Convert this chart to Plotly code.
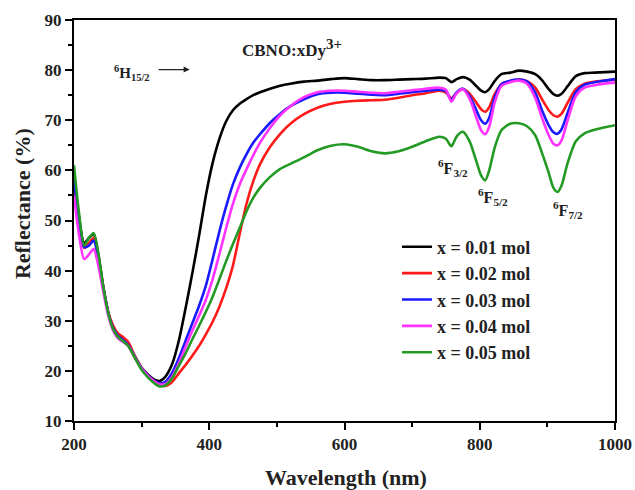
import plotly.graph_objects as go

wavelength = [200, 207, 215, 222, 229, 236, 243, 251, 258, 265, 272, 280, 290, 300, 310, 320, 327, 335,
              345, 355, 365, 375, 385, 395, 405, 415, 425, 435, 445, 455, 465, 475, 490, 505, 520, 540,
              560, 580, 600, 620, 640, 660, 680, 700, 720, 740, 750, 758, 766, 775, 785, 795, 802, 808,
              814, 822, 832, 845, 858, 870, 882, 892, 902, 909, 915, 921, 930, 942, 955, 970, 985, 1000]

r_001 = [59, 51, 45.5, 46.5, 47.3, 43, 37, 31.5, 28.5, 27.3, 26.3, 25.2, 22.8, 20.6, 19.2, 18.2, 18.0, 18.8,
         21.3, 26, 32.5, 39.5, 47, 55, 61.5, 66.3, 69.8, 72, 73.3, 74.2, 75, 75.6, 76.3, 76.9, 77.3, 77.7,
         77.9, 78.2, 78.4, 78.2, 78.0, 78.0, 78.1, 78.2, 78.3, 78.5, 78.4, 77.6, 78.2, 78.6, 78.1, 76.8, 75.9, 75.6,
         76.2, 77.8, 79.2, 79.5, 79.9, 79.7, 79.2, 78, 76.2, 75.2, 74.9, 75.3, 76.8, 78.8, 79.4, 79.5, 79.6, 79.7]

r_002 = [57, 50, 44.5, 45.5, 46.5, 43, 37, 31.5, 29, 27.5, 26.8, 25.8, 23, 20.6, 19.0, 17.8, 17.2, 17.0,
         17.8, 19.5, 21.2, 23, 25, 27.3, 29.8, 32.8, 36.5, 41, 47.3, 53.3, 57.8, 61.2, 64.7, 67.3, 69.3, 71.2,
         72.5, 73.3, 73.7, 73.9, 74, 74.1, 74.5, 75, 75.4, 75.9, 75.5, 74.4, 75.5, 76.2, 75.3, 73.5, 72.2, 71.7,
         72.6, 75.2, 77.2, 77.8, 78.1, 77.8, 76.5, 74.2, 72, 71, 70.7, 71.3, 73.5, 76.2, 77.3, 77.7, 77.9, 78.1]

r_003 = [58, 50.5, 44.7, 45, 46, 42.5, 36.8, 31.3, 28.5, 27, 26.2, 25.2, 22.8, 20.5, 19, 17.9, 17.5, 17.8,
         19.6, 22.5, 26, 29.5, 33, 37, 42.3, 47.8, 52.8, 57.2, 60.5, 63.2, 65.5, 67.2, 69.5, 71.3, 72.8, 74.2,
         75.2, 75.5, 75.5, 75.3, 75.1, 75.0, 75.3, 75.6, 75.9, 76.1, 75.8, 74.1, 75.6, 76.3, 74.8, 72, 70, 69.3,
         70.5, 74.5, 77.2, 77.9, 78.1, 77.7, 75.5, 72, 69, 67.6, 67.3, 68.2, 71.5, 75.6, 77.1, 77.6, 77.9, 78.2]

r_004 = [55, 47.5, 42.3, 43.2, 44.3, 41, 36, 30.8, 28, 26.5, 25.8, 25, 22.6, 20.4, 18.9, 17.8, 17.3, 17.4,
         18.8, 21.5, 24.8, 28, 31, 34.2, 38.3, 43.3, 48.5, 53.3, 57.2, 60.2, 63, 65.5, 68.5, 71, 72.8, 74.6,
         75.6, 75.9, 75.9, 75.7, 75.5, 75.4, 75.7, 76, 76.3, 76.5, 76.1, 73.7, 75.4, 76.2, 74.3, 70.5, 68, 67.2,
         68.7, 73.5, 76.8, 77.6, 77.9, 77.3, 74.5, 70.5, 67, 65.3, 65, 66, 70, 74.8, 76.5, 77, 77.3, 77.5]

r_005 = [61, 52, 45, 46.5, 47.5, 43.5, 37, 31.3, 28.3, 26.8, 26, 25, 22.6, 20.2, 18.6, 17.4, 16.9, 17.1,
         18.5, 21, 23.5, 26.3, 29, 31.8, 34.8, 38.3, 41.9, 45.3, 48.5, 51.8, 54.5, 56.5, 58.7, 60.3, 61.3, 62.6,
         64, 64.9, 65.2, 64.7, 63.8, 63.4, 63.8, 64.7, 65.8, 66.7, 66.3, 64.8, 66.8, 67.7, 65.8, 61.8, 59, 58,
         60, 64.5, 68, 69.3, 69.4, 68.8, 67, 63.5, 59.5, 56.5, 55.7, 57, 61.5, 65.8, 67.4, 68.1, 68.6, 69]

series_names = ["x = 0.01 mol", "x = 0.02 mol", "x = 0.03 mol", "x = 0.04 mol", "x = 0.05 mol"]
series_values = [r_001, r_002, r_003, r_004, r_005]
colors = ["#000000", "#ff1a1a", "#1a1aff", "#ff33ff", "#239a23"]

x_ticks = [200, 400, 600, 800, 1000]
y_ticks = [10, 20, 30, 40, 50, 60, 70, 80, 90]

FONT = "Liberation Serif, Times New Roman, serif"
TXT = "#222"

fig = go.Figure()
for name, vals, col in zip(series_names, series_values, colors):
    fig.add_trace(go.Scatter(x=wavelength, y=vals, mode="lines", name=name,
                             line=dict(color=col, width=2.6, shape="spline", smoothing=0.7)))

axis_common = dict(showline=True, linecolor="black", linewidth=2, mirror=True,
                   ticks="outside", ticklen=7, tickwidth=2, tickcolor="black",
                   showgrid=False, zeroline=False, automargin=False,
                   tickfont=dict(family=FONT, size=17, color=TXT, weight="bold"))

fig.update_xaxes(range=[200, 1000], tickvals=x_ticks, ticktext=[str(v) for v in x_ticks],
                 minor=dict(ticks="outside", ticklen=4, tickwidth=2, tickcolor="black", dtick=100, tick0=200),
                 **axis_common)
fig.update_yaxes(range=[10, 90], tickvals=y_ticks, ticktext=[str(v) for v in y_ticks],
                 minor=dict(ticks="outside", ticklen=4, tickwidth=2, tickcolor="black", dtick=5, tick0=10),
                 **axis_common)

# axis titles
fig.add_annotation(xref="paper", yref="paper", x=0.503, y=-0.14, text="Wavelength (nm)",
                   showarrow=False, xanchor="center", yanchor="middle",
                   font=dict(family=FONT, size=22, color=TXT, weight="bold"))
fig.add_annotation(xref="paper", yref="paper", x=-0.096, y=0.541, text="Reflectance (%)",
                   showarrow=False, xanchor="center", yanchor="middle", textangle=-90,
                   font=dict(family=FONT, size=22, color=TXT, weight="bold"))

ann_font = dict(family=FONT, size=16, color=TXT, weight="bold")
fig.add_annotation(x=445, y=84.4, text="CBNO:xDy<sup><span style='font-size:15px'>3+</span></sup>",
                   showarrow=False, xanchor="left",
                   font=dict(family=FONT, size=17, color=TXT, weight="bold"))
fig.add_annotation(x=256, y=79.4, text="<sup>6</sup>H<sub>15/2</sub>", showarrow=False, xanchor="left",
                   font=dict(family=FONT, size=15, color=TXT, weight="bold"))
fig.add_annotation(x=371, y=80.1, ax=323, ay=80.1, axref="x", ayref="y", xref="x", yref="y",
                   text="", showarrow=True, arrowhead=2, arrowsize=1, arrowwidth=1.2, arrowcolor=TXT)
fig.add_annotation(x=760, y=60.4, text="<sup>6</sup>F<sub>3/2</sub>", showarrow=False, font=ann_font)
fig.add_annotation(x=819, y=54.6, text="<sup>6</sup>F<sub>5/2</sub>", showarrow=False, font=ann_font)
fig.add_annotation(x=931, y=52.0, text="<sup>6</sup>F<sub>7/2</sub>", showarrow=False, font=ann_font)

fig.update_layout(
    width=635, height=490,
    margin=dict(l=74, r=20, t=20, b=69, autoexpand=False),
    plot_bgcolor="white", paper_bgcolor="white",
    font=dict(family=FONT, color=TXT),
    legend=dict(x=0.597, y=0.48, xanchor="left", yanchor="top",
                bgcolor="rgba(0,0,0,0)", borderwidth=0, tracegroupgap=0,
                font=dict(family=FONT, size=18, color=TXT, weight="bold"),
                itemwidth=30),
    showlegend=True,
)

fig.write_html("out.html")
